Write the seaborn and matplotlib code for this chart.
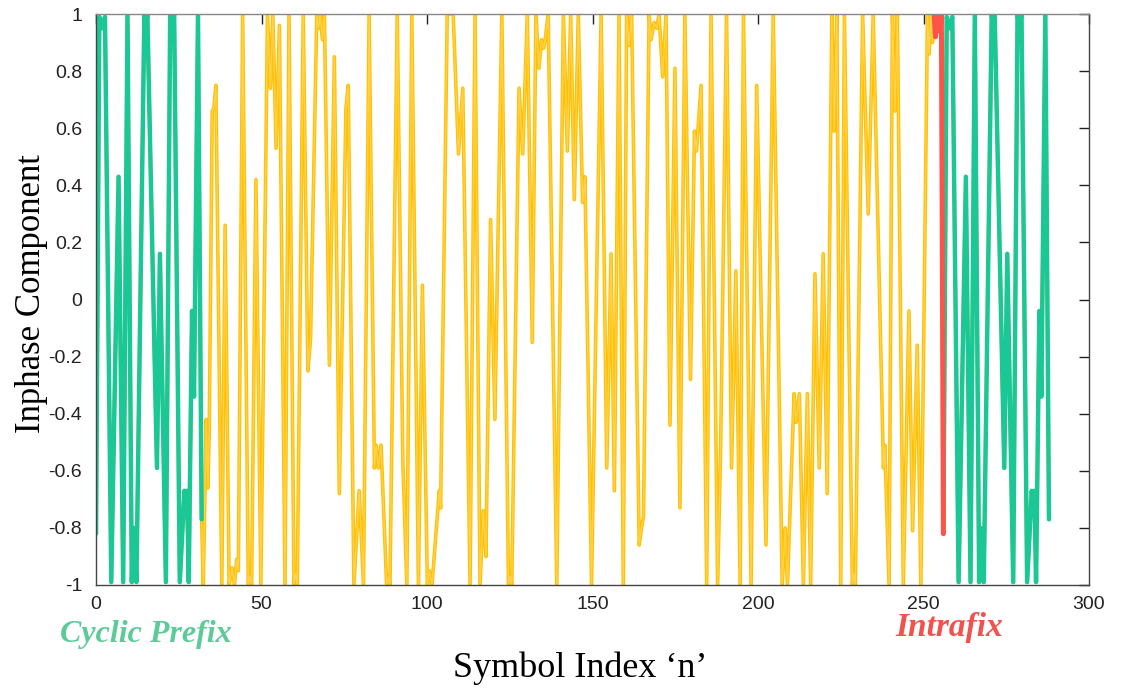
import matplotlib
matplotlib.use("Agg")
import matplotlib.pyplot as plt
import matplotlib.patheffects as pe
import pandas as pd
import seaborn as sns

# ---- Inphase component of one OFDM symbol (symbol index n vs. amplitude) ----
# Cyclic prefix: first 32 samples (a copy of the symbol's last 32 samples)
cp_n = [0.0, 1.0, 1.9, 2.7, 4.6, 6.8, 8.2, 9.5, 10.8, 11.4, 12.2, 14.6, 15.05,
        15.5, 18.4, 19.3, 21.1, 22.4, 23.0, 23.6, 25.3, 26.7, 27.1, 27.5, 28.0,
        29.0, 29.6, 30.8, 31.9]
cp_val = [-0.82, 0.99, 0.95, 0.99, -0.99, 0.43, -0.99, 1.0, -0.99, -0.80, -0.99,
          1.0, 0.95, 1.0, -0.59, 0.16, -0.99, 1.0, 0.95, 1.0, -0.99, -0.67,
          -0.72, -0.67, -0.99, -0.04, -0.34, 1.0, -0.77]

# Data-carrying part of the symbol
body_n = [32.4, 33.3, 33.8, 34.2, 35.1, 35.6, 36.2, 38.0, 39.0, 40.2, 41.1,
          41.8, 42.5, 43.0, 44.3, 46.0, 46.5, 47.0, 48.3, 49.8, 51.8, 52.7,
          53.4, 54.4, 55.4, 57.1, 58.3, 59.8, 60.3, 60.8, 62.6, 64.0, 64.8,
          66.7, 67.2, 67.7, 68.4, 69.0, 70.5, 72.0, 73.5, 75.5, 76.2, 77.9,
          79.5, 80.8, 82.5, 84.1, 84.6, 85.3, 86.1, 87.8, 88.3, 88.8, 91.0,
          92.7, 93.9, 95.4, 97.4, 98.6, 100.1, 100.7, 101.5, 103.7, 104.1,
          106.1, 107.9, 109.5, 110.8, 113.0, 114.5, 116.0, 117.0, 117.8, 119.2,
          120.5, 122.6, 124.6, 125.1, 125.6, 127.8, 128.9, 130.3, 131.8, 132.9,
          133.8, 134.6, 135.2, 135.7, 136.6, 139.2, 141.2, 142.4, 143.4, 144.5,
          145.7, 147.0, 147.7, 149.7, 152.6, 154.3, 155.6, 156.6, 158.0, 159.3,
          160.3, 161.0, 161.8, 164.1, 164.8, 165.4, 167.1, 167.7, 168.6, 169.4,
          170.1, 171.2, 172.2, 173.4, 174.9, 176.4, 177.9, 179.6, 180.8, 181.4,
          182.8, 184.5, 185.8, 187.8, 188.7, 190.5, 192.0, 193.3, 194.6, 195.6,
          197.9, 199.6, 202.4, 204.6, 207.3, 208.2, 208.9, 210.9, 211.5, 212.5,
          213.7, 214.9, 215.9, 217.2, 218.5, 219.7, 220.9, 222.3, 223.0, 223.8,
          225.0, 226.1, 228.5, 228.9, 229.4, 231.6, 233.3, 234.8, 237.9, 238.3,
          239.6, 240.6, 241.4, 242.1, 243.9, 245.6, 246.7, 248.1, 249.2, 251.2,
          251.7, 252.2, 252.7, 253.2]
body_val = [-1.0, -0.42, -0.66, -0.46, 0.66, 0.67, 0.75, -1.0, 0.26, -1.0, -0.94,
            -1.0, -0.91, -0.95, 1.0, -1.0, -0.97, -1.0, 0.42, -1.0, 1.0, 0.74,
            1.0, 0.53, 0.96, -1.0, 1.0, -1.0, -0.96, -1.0, 1.0, -0.25, -0.14,
            1.0, 0.95, 1.0, 0.91, 1.0, -0.23, 0.85, -0.68, 0.67, 0.75, -1.0,
            -0.67, -1.0, 1.0, -0.59, -0.51, -0.59, -0.51, -1.0, -0.97, -1.0, 1.0,
            -0.57, -1.0, 1.0, -1.0, 0.05, -1.0, -0.95, -1.0, -0.67, -0.73,
            1.0, 1.0, 0.51, 0.74, -1.0, 1.0, -1.0, -0.74, -0.90, 0.28,
            -0.42, 1.0, -1.0, -0.97, -1.0, 0.74, 0.51, 1.0, -0.15, 1.0,
            0.81, 0.91, 0.88, 0.91, 1.0, -1.0, 1.0, 0.52, 1.0, 0.35,
            1.0, 0.34, 0.43, -1.0, 1.0, -0.59, 0.16, -0.67, 1.0, -1.0,
            1.0, 0.89, 1.0, -0.86, -0.80, -0.76, 1.0, 0.91, 0.97, 0.95,
            1.0, 0.78, 1.0, -0.44, 0.81, -0.73, 1.0, -0.28, 0.59, 0.52,
            0.75, -1.0, 1.0, -1.0, -0.52, 1.0, -0.59, 0.10, -1.0, 1.0,
            -1.0, 0.75, -0.86, 1.0, -1.0, -0.80, -1.0, -0.33, -0.43, -0.33,
            -1.0, -0.33, -1.0, 0.09, -0.59, 0.16, -0.68, 1.0, 0.59, 1.0,
            -1.0, 1.0, -1.0, -0.96, -1.0, 1.0, 0.30, 1.0, -0.59, -0.51,
            -1.0, 1.0, 0.66, 1.0, -1.0, -0.04, -0.81, -0.16, -1.0, 1.0,
            0.86, 1.0, 0.90, 1.0]

# Intrafix samples
intra_n = [253.6, 254.4, 254.9, 255.4]
intra_val = [0.92, 1.0, 0.94, 1.0]

SYMBOL_LEN = 256
x_ticks = [0, 50, 100, 150, 200, 250, 300]
y_ticks = [-1, -0.8, -0.6, -0.4, -0.2, 0, 0.2, 0.4, 0.6, 0.8, 1]
y_tick_labels = ["-1", "-0.8", "-0.6", "-0.4", "-0.2", "0", "0.2", "0.4",
                 "0.6", "0.8", "1"]

YELLOW = "#FFC000"
YELLOW_CORE = "#FFD24D"
GREEN = "#1CC796"
RED = "#FF5349"

# The tail of the symbol is the part that the cyclic prefix repeats
tail_n = [n + SYMBOL_LEN for n in cp_n]
tail_val = list(cp_val)

full = pd.DataFrame({"n": cp_n + body_n + intra_n + tail_n,
                     "val": cp_val + body_val + intra_val + tail_val})
cp_df = pd.DataFrame({"n": cp_n, "val": cp_val})
tail_df = pd.DataFrame({"n": tail_n, "val": tail_val})
intra_df = pd.DataFrame({"n": [body_n[-1]] + intra_n + [tail_n[0]],
                         "val": [body_val[-1]] + intra_val + [tail_val[0]]})

sns.set_theme(style="white")
plt.rcParams["font.family"] = ["Liberation Sans", "DejaVu Sans"]

fig = plt.figure(figsize=(11.22, 6.97), dpi=100)
ax = fig.add_axes([0.0856, 0.1607, 0.8850, 0.8192])

line_kw = dict(x="n", y="val", estimator=None, sort=False, ax=ax, legend=False)
sns.lineplot(data=full, color=YELLOW_CORE, linewidth=1.0, **line_kw)
ax.lines[-1].set_path_effects([pe.Stroke(linewidth=2.6, foreground=YELLOW),
                               pe.Normal()])
sns.lineplot(data=cp_df, color=GREEN, linewidth=3.2, **line_kw)
sns.lineplot(data=tail_df, color=GREEN, linewidth=3.2, **line_kw)
sns.lineplot(data=intra_df, color=RED, linewidth=3.6, **line_kw)

ax.set_xlim(0, 300)
ax.set_ylim(-1, 1)
ax.set_xticks(x_ticks)
ax.set_xticklabels([str(t) for t in x_ticks])
ax.set_yticks(y_ticks)
ax.set_yticklabels(y_tick_labels)
ax.tick_params(direction="in", length=7, width=1, top=True, right=True,
               labelsize=14, colors="#222222")
ax.tick_params(axis="y", pad=10)
ax.tick_params(axis="x", pad=8)
for side in ("left", "right", "top", "bottom"):
    ax.spines[side].set_visible(True)
    ax.spines[side].set_color("#444444")
    ax.spines[side].set_linewidth(1.0)
ax.spines["top"].set_color("#888888")

ax.set_xlabel("Symbol Index \u2018n\u2019", family=["Liberation Serif"],
              fontsize=26, color="black")
ax.xaxis.set_label_coords(0.488, -0.117)
ax.set_ylabel("Inphase Component", family=["Liberation Serif"],
              fontsize=25, color="black")
ax.yaxis.set_label_coords(-0.048, 0.51)

fig.text(0.130, 0.089, "Cyclic Prefix", color="#5CCB98", fontsize=23,
         fontstyle="italic", fontweight="bold", family=["Liberation Serif"],
         ha="center", va="center")
fig.text(0.846, 0.099, "Intrafix", color="#F2524E", fontsize=24,
         fontstyle="italic", fontweight="bold", family=["Liberation Serif"],
         ha="center", va="center")

fig.savefig("out.png", dpi=100, facecolor="white")
